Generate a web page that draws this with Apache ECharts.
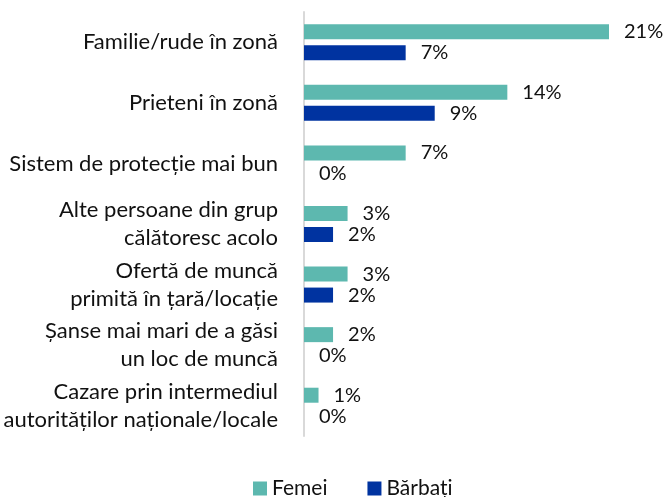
<!DOCTYPE html>
<html>
<head>
<meta charset="utf-8">
<script src="https://cdn.jsdelivr.net/npm/echarts@6/dist/echarts.min.js"></script>
<style>html,body{margin:0;padding:0;background:#fff;}#c{width:664px;height:497px;}</style>
</head>
<body>
<div id="c"></div>
<script>
const categories = [
  "Familie/rude în zonă",
  "Prieteni în zonă",
  "Sistem de protecție mai bun",
  "Alte persoane din grup\ncălătoresc acolo",
  "Ofertă de muncă\nprimită în țară/locație",
  "Șanse mai mari de a găsi\nun loc de muncă",
  "Cazare prin intermediul\nautorităților naționale/locale"
];
const femei = [21, 14, 7, 3, 3, 2, 1];
const barbati = [7, 9, 0, 2, 2, 0, 0];
const seriesNames = ["Femei", "Bărbați"];

const FONT = "Lato";
const chart = echarts.init(document.getElementById('c'));
const labelCfg = {
  show: true, position: 'right', distance: 15,
  formatter: '{c}%', fontSize: 20, fontFamily: FONT, color: '#111'
};
chart.setOption({
  animation: false,
  grid: { left: 304, right: 55, top: 12, bottom: 61, containLabel: false },
  xAxis: { type: 'value', min: 0, max: 21, show: false },
  yAxis: {
    type: 'category', data: categories, inverse: true,
    axisLine: { show: true, lineStyle: { color: '#d9d9d9', width: 2 } },
    axisTick: { show: false },
    axisLabel: { interval: 0, hideOverlap: false, fontSize: 22, fontFamily: FONT, color: '#111',
      margin: 26, lineHeight: 28, align: 'right', padding: [0, 0, 5, 0] }
  },
  legend: {
    data: seriesNames, left: 253, top: 478, padding: 0,
    itemWidth: 14, itemHeight: 14, itemGap: 40, icon: 'rect',
    textStyle: { fontSize: 21, fontFamily: FONT, color: '#111' }
  },
  series: [
    { name: seriesNames[0], type: 'bar', data: femei, barWidth: 15, barGap: '40%',
      itemStyle: { color: '#5DB8AF' }, label: labelCfg },
    { name: seriesNames[1], type: 'bar', data: barbati, barWidth: 15, barGap: '40%',
      itemStyle: { color: '#0033A0' }, label: labelCfg }
  ]
});
</script>
</body>
</html>
